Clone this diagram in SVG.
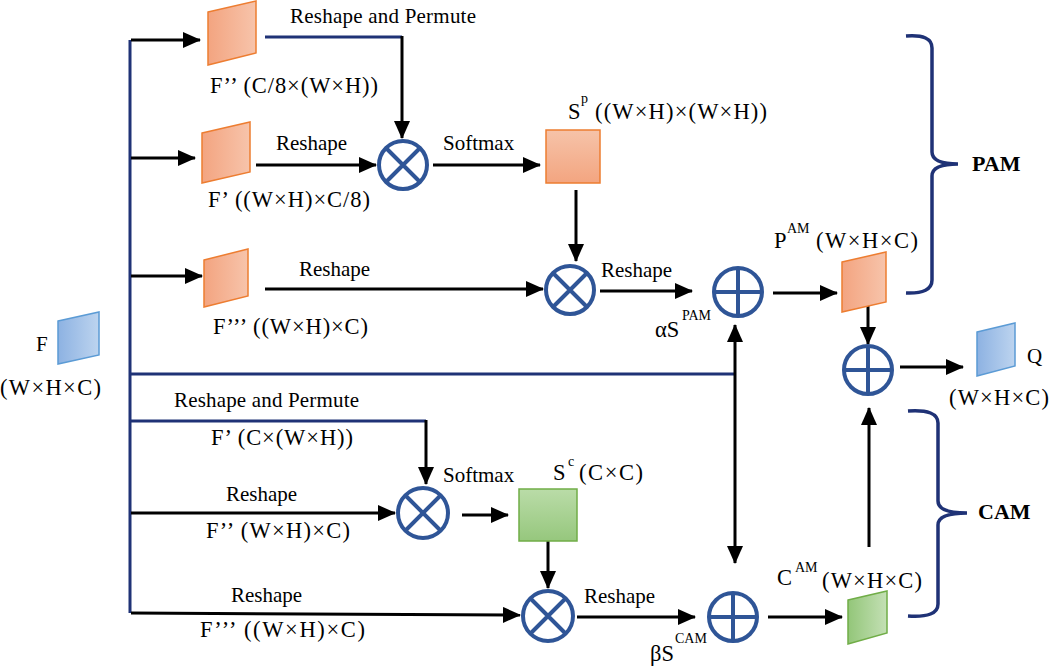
<svg xmlns="http://www.w3.org/2000/svg" width="1050" height="666" viewBox="0 0 1050 666">
<style>
text{font-family:"Liberation Serif","Times New Roman",serif;font-size:21px;fill:#000}
.p{font-size:22.5px}
.sup{font-size:14px}
.b{font-weight:bold;font-size:22px}
.k{stroke:#000;stroke-width:3;fill:none}
.n{stroke:#1F3276;stroke-width:3;fill:none}
.ar{marker-end:url(#ah)}
.op{fill:#fff;stroke:#2F5597;stroke-width:4}
.opl{stroke:#2F5597;stroke-width:4}
.po{stroke:#ED7D31;stroke-width:1.5}
.pb{stroke:#5B9BD5;stroke-width:1.5}
.pg{stroke:#70AD47;stroke-width:1.5}
.br{stroke:#1F3276;stroke-width:3.5;fill:none}
</style>
<defs>
<marker id="ah" markerWidth="18" markerHeight="16" refX="17" refY="8" orient="auto-start-reverse" markerUnits="userSpaceOnUse"><path d="M0,0 L18,8 L0,16 z" fill="#000"/></marker>
<linearGradient id="oH" x1="0" y1="0" x2="1" y2="0"><stop offset="0" stop-color="#F3A480"/><stop offset="1" stop-color="#F7C4AB"/></linearGradient>
<linearGradient id="oV" x1="0" y1="0" x2="0" y2="1"><stop offset="0" stop-color="#F6C3A9"/><stop offset="1" stop-color="#F3A580"/></linearGradient>
<linearGradient id="bH" x1="0" y1="0" x2="1" y2="0"><stop offset="0" stop-color="#8DB2E2"/><stop offset="1" stop-color="#BDD4EF"/></linearGradient>
<linearGradient id="gH" x1="0" y1="0" x2="1" y2="0"><stop offset="0" stop-color="#93C679"/><stop offset="1" stop-color="#C4E0B5"/></linearGradient>
<linearGradient id="gV" x1="0" y1="0" x2="0" y2="1"><stop offset="0" stop-color="#BADCA8"/><stop offset="1" stop-color="#96C77D"/></linearGradient>
</defs>

<g id="connectors">
<path class="n" d="M130,40 V613"/>
<path class="k ar" d="M131,40 H200"/>
<path class="k ar" d="M131,158 H195"/>
<path class="k ar" d="M131,276 H202"/>
<path class="n" d="M265,37 H402"/>
<path class="k ar" d="M402,36 V138"/>
<path class="k ar" d="M256,165 H376"/>
<path class="k ar" d="M433,165 H540"/>
<path class="k ar" d="M576,190 V261"/>
<path class="k ar" d="M265,289 H543"/>
<path class="k ar" d="M600,291 H692"/>
<path class="k ar" d="M773,293 H837"/>
<path class="k ar" d="M868,305 V344"/>
<path class="k ar" d="M900,367 H963"/>
<path class="n" d="M130,374 H735"/>
<path class="k ar" d="M735,325 V563" style="marker-start:url(#ah)"/>
<path class="n" d="M130,421 H426"/>
<path class="k ar" d="M426,420 V484"/>
<path class="k ar" d="M131,513 H395"/>
<path class="k ar" d="M462,515 H508"/>
<path class="k ar" d="M548,541 V588"/>
<path class="k ar" d="M131,613 L520,615"/>
<path class="k ar" d="M577,617 H695"/>
<path class="k ar" d="M768,617 H842"/>
<path class="k ar" d="M869,547 V408"/>
</g>

<g id="labels-edges">
<text x="290" y="23" textLength="186">Reshape and Permute</text>
<text x="276" y="150">Reshape</text>
<text x="443" y="150">Softmax</text>
<text x="299" y="276">Reshape</text>
<text x="601" y="277">Reshape</text>
<text x="174" y="407" textLength="185">Reshape and Permute</text>
<text x="226" y="501">Reshape</text>
<text x="443" y="482">Softmax</text>
<text x="231" y="602">Reshape</text>
<text x="584" y="603">Reshape</text>
</g>

<g id="node-F">
<polygon class="pb" fill="url(#bH)" points="58,321 99,312 99,355 58,364"/>
<text x="36" y="351">F</text>
<text class="p" x="0" y="395" textLength="101">(W×H×C)</text>
</g>

<g id="node-F2-top">
<polygon class="po" fill="url(#oH)" points="208,12 256,1 256,53 208,65"/>
<text class="p" x="210" y="93" textLength="168">F’’ (C/8×(W×H))</text>
</g>

<g id="node-F1-top">
<polygon class="po" fill="url(#oH)" points="202,133 250,122 250,172 202,183"/>
<text class="p" x="208" y="207" textLength="162">F’ ((W×H)×C/8)</text>
</g>

<g id="node-F3-top">
<polygon class="po" fill="url(#oH)" points="204,260 248,249 248,296 204,307"/>
<text class="p" x="213" y="334" textLength="155">F’’’ ((W×H)×C)</text>
</g>

<g id="node-mul1">
<circle class="op" cx="403" cy="165" r="24"/>
<path class="opl" d="M386,148 L420,182 M420,148 L386,182"/>
</g>

<g id="node-Sp">
<rect class="po" fill="url(#oV)" x="546" y="130" width="54" height="53"/>
<text class="p" x="568" y="119">S</text>
<text class="sup" x="581" y="103">p</text>
<text class="p" x="595" y="119" textLength="172">((W×H)×(W×H))</text>
</g>

<g id="node-mul2">
<circle class="op" cx="570" cy="290" r="24"/>
<path class="opl" d="M553,273 L587,307 M587,273 L553,307"/>
</g>

<g id="node-add1">
<circle class="op" cx="738" cy="292" r="24"/>
<path class="opl" d="M714,292 H762 M738,268 V316"/>
<text class="p" x="655" y="337">αS</text>
<text class="sup" x="682" y="320">PAM</text>
</g>

<g id="node-PAM-out">
<polygon class="po" fill="url(#oH)" points="842,262 886,252 886,302 842,312"/>
<text class="p" x="774" y="248">P</text>
<text class="sup" x="787" y="233">AM</text>
<text class="p" x="816" y="248" textLength="102">(W×H×C)</text>
</g>

<g id="node-add3">
<circle class="op" cx="868" cy="370" r="24"/>
<path class="opl" d="M844,370 H892 M868,346 V394"/>
</g>

<g id="node-Q">
<polygon class="pb" fill="url(#bH)" points="977,332 1015,323 1015,366 977,376"/>
<text x="1027" y="363">Q</text>
<text class="p" x="949" y="405" textLength="100">(W×H×C)</text>
</g>

<g id="node-F1-bottom">
<text class="p" x="211" y="445" textLength="142">F’ (C×(W×H))</text>
</g>
<g id="node-F2-bottom">
<text class="p" x="206" y="538" textLength="144">F’’ (W×H)×C)</text>
</g>
<g id="node-F3-bottom">
<text class="p" x="200" y="637" textLength="165">F’’’ ((W×H)×C)</text>
</g>

<g id="node-mul3">
<circle class="op" cx="423" cy="513" r="25"/>
<path class="opl" d="M405,495 L441,531 M441,495 L405,531"/>
</g>

<g id="node-Sc">
<rect class="pg" fill="url(#gV)" x="519" y="489" width="58" height="52"/>
<text class="p" x="553" y="480">S</text>
<text class="sup" x="568" y="466">c</text>
<text class="p" x="579" y="480" textLength="64">(C×C)</text>
</g>

<g id="node-mul4">
<circle class="op" cx="548" cy="616" r="25"/>
<path class="opl" d="M530,598 L566,634 M566,598 L530,634"/>
</g>

<g id="node-add2">
<circle class="op" cx="733" cy="617" r="24"/>
<path class="opl" d="M709,617 H757 M733,593 V641"/>
<text class="p" x="650" y="661">βS</text>
<text class="sup" x="675" y="643">CAM</text>
</g>

<g id="node-CAM-out">
<polygon class="pg" fill="url(#gH)" points="848,600 887,591 887,633 848,644"/>
<text class="p" x="777" y="585">C</text>
<text class="sup" x="795" y="572">AM</text>
<text class="p" x="822" y="588" textLength="100">(W×H×C)</text>
</g>

<g id="brace-PAM">
<path class="br" d="M906,36 Q932,34 932,48 L932,152 Q932,164 958,164 Q932,164 932,176 L932,280 Q932,294 906,293"/>
<text class="b" x="972" y="171">PAM</text>
</g>

<g id="brace-CAM">
<path class="br" d="M908,411 Q938,409 938,423 L938,501 Q938,513 967,513 Q938,513 938,525 L938,604 Q938,618 908,616"/>
<text class="b" x="978" y="519">CAM</text>
</g>
</svg>
